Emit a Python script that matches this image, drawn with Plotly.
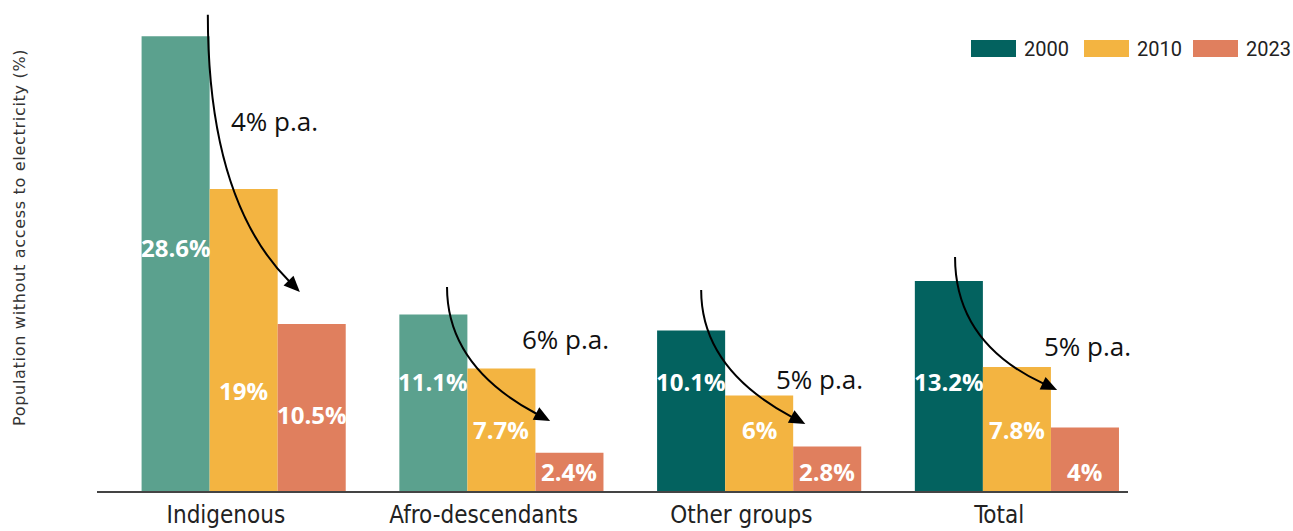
import math
import plotly.graph_objects as go

# ---- data -------------------------------------------------------------
categories = ["Indigenous", "Afro-descendants", "Other groups", "Total"]
years = ["2000", "2010", "2023"]
values_2000 = [28.6, 11.1, 10.1, 13.2]
values_2010 = [19, 7.7, 6, 7.8]
values_2023 = [10.5, 2.4, 2.8, 4]
rate_labels = ["4% p.a.", "6% p.a.", "5% p.a.", "5% p.a."]

# ---- styling / layout constants ----------------------------------------
TEAL_DARK = "#03625f"
TEAL_LIGHT = "#5ba18e"
YELLOW = "#f3b441"
SALMON = "#e07f5e"
colors_2000 = [TEAL_LIGHT, TEAL_LIGHT, TEAL_DARK, TEAL_DARK]
series_colors = [colors_2000, YELLOW, SALMON]
legend_colors = [TEAL_DARK, YELLOW, SALMON]

W, H = 1293, 531
MARGIN = dict(l=97, r=165, t=14, b=40)
X_RANGE = [-0.5, 3.5]
Y_RANGE = [0, 30]
BAR_W = 0.264          # width of one bar in category units
GROUP_LEFT = -0.327    # left edge of each group relative to its category

# vertical position (data units) of the value label inside each bar
label_y = {
    "2000": [15.3, 6.9, 6.9, 6.9],
    "2010": [6.35, 3.85, 3.85, 3.85],
    "2023": [4.8, 1.2, 1.2, 1.2],
}

# curved arrows per group: start (dx from category, y), tip (dx, y), end angle (deg)
arrow_start = [(-0.07, 29.95), (-0.142, 12.83), (-0.156, 12.64), (-0.171, 14.72)]
arrow_tip = [(0.287, 12.52), (0.258, 4.40), (0.248, 4.21), (0.225, 6.35)]
arrow_angle = [45, 28, 28, 25]

# growth-rate text positions (dx from category, y)
rate_pos = [(0.19, 23.3), (0.316, 9.55), (0.305, 7.05), (0.341, 9.15)]

# ---- pixel helpers ------------------------------------------------------
plot_w = W - MARGIN["l"] - MARGIN["r"]
plot_h = H - MARGIN["t"] - MARGIN["b"]
SX = plot_w / (X_RANGE[1] - X_RANGE[0])
SY = plot_h / (Y_RANGE[1] - Y_RANGE[0])


def to_px(x, y):
    return (MARGIN["l"] + (x - X_RANGE[0]) * SX, H - MARGIN["b"] - (y - Y_RANGE[0]) * SY)


def to_data(px, py):
    return (X_RANGE[0] + (px - MARGIN["l"]) / SX, Y_RANGE[0] + (H - MARGIN["b"] - py) / SY)


def fmt(px, py):
    x, y = to_data(px, py)
    return f"{x:.5f},{y:.5f}"


# ---- figure -------------------------------------------------------------
fig = go.Figure()
series = [values_2000, values_2010, values_2023]
xs = list(range(len(categories)))

for k, (year, vals) in enumerate(zip(years, series)):
    fig.add_trace(go.Bar(
        x=xs,
        y=vals,
        name=year,
        width=BAR_W,
        offset=GROUP_LEFT + k * BAR_W,
        marker=dict(color=series_colors[k], line=dict(width=0)),
        showlegend=False,
        hoverinfo="skip",
    ))

annotations = []
shapes = []

# value labels inside bars
for k, (year, vals) in enumerate(zip(years, series)):
    for i, v in enumerate(vals):
        annotations.append(dict(
            x=i + GROUP_LEFT + BAR_W * (k + 0.5),
            y=label_y[year][i],
            xref="x", yref="y",
            text=f"{v:g}%",
            showarrow=False,
            xanchor="center", yanchor="middle",
            font=dict(family="Open Sans", size=24, color="white", weight="bold"),
        ))

# curved arrows and rate text
HEAD_L, HEAD_HW = 16, 7
for i in range(len(categories)):
    X0, Y0 = to_px(i + arrow_start[i][0], arrow_start[i][1])
    X1, Y1 = to_px(i + arrow_tip[i][0], arrow_tip[i][1])
    a = math.radians(arrow_angle[i])
    ux, uy = math.cos(a), math.sin(a)
    bx, by = X1 - ux * HEAD_L, Y1 - uy * HEAD_L
    cx = X0
    cy = by - (bx - X0) * uy / ux
    shapes.append(dict(
        type="path", xref="x", yref="y",
        path=f"M{fmt(X0, Y0)} Q{fmt(cx, cy)} {fmt(bx + ux, by + uy)}",
        line=dict(color="black", width=2),
        fillcolor="rgba(0,0,0,0)",
    ))
    nx, ny = -uy, ux
    c1 = (bx + nx * HEAD_HW, by + ny * HEAD_HW)
    c2 = (bx - nx * HEAD_HW, by - ny * HEAD_HW)
    shapes.append(dict(
        type="path", xref="x", yref="y",
        path=f"M{fmt(X1, Y1)} L{fmt(*c1)} L{fmt(*c2)} Z",
        line=dict(width=0),
        fillcolor="black",
    ))
    annotations.append(dict(
        x=i + rate_pos[i][0], y=rate_pos[i][1],
        xref="x", yref="y",
        text=rate_labels[i],
        showarrow=False,
        xanchor="center", yanchor="middle",
        font=dict(family="Open Sans", size=26, color="#111111"),
    ))

# legend drawn as swatches + labels along the top right
legend_sw_x = [971, 1084, 1193]
for k, year in enumerate(years):
    x0p = (legend_sw_x[k] - MARGIN["l"]) / plot_w
    x1p = (legend_sw_x[k] + 45 - MARGIN["l"]) / plot_w
    shapes.append(dict(
        type="rect", xref="paper", yref="paper",
        x0=x0p, x1=x1p,
        y0=(H - MARGIN["b"] - 57) / plot_h, y1=(H - MARGIN["b"] - 40) / plot_h,
        fillcolor=legend_colors[k], line=dict(width=0),
    ))
    annotations.append(dict(
        x=(legend_sw_x[k] + 51 - MARGIN["l"]) / plot_w,
        y=(H - MARGIN["b"] - 49) / plot_h,
        xref="paper", yref="paper",
        text=year, showarrow=False,
        xanchor="left", yanchor="middle",
        font=dict(family="Roboto", size=20, color="#222222"),
    ))

# y-axis title
annotations.append(dict(
    x=(20 - MARGIN["l"]) / plot_w, y=(H - MARGIN["b"] - 238) / plot_h,
    xref="paper", yref="paper",
    text='<span style="letter-spacing:0.7px">Population without access to electricity (%)</span>',
    textangle=-90, showarrow=False,
    xanchor="center", yanchor="middle",
    font=dict(family="DejaVu Sans", size=16, color="#333333"),
))

fig.update_layout(
    width=W, height=H,
    margin=dict(l=MARGIN["l"], r=MARGIN["r"], t=MARGIN["t"], b=MARGIN["b"], pad=0),
    plot_bgcolor="white", paper_bgcolor="white",
    barmode="overlay",
    annotations=annotations,
    shapes=shapes,
    xaxis=dict(
        range=X_RANGE,
        tickmode="array", tickvals=xs, ticktext=categories,
        showgrid=False, zeroline=False,
        showline=True, linecolor="#444444", linewidth=2,
        ticks="", ticklabelstandoff=1,
        tickfont=dict(family="DejaVu Sans Condensed", size=24, color="#222222"),
        automargin=False,
        fixedrange=True,
    ),
    yaxis=dict(
        range=Y_RANGE, visible=False, fixedrange=True, automargin=False,
    ),
)

fig.write_html("out.html")
